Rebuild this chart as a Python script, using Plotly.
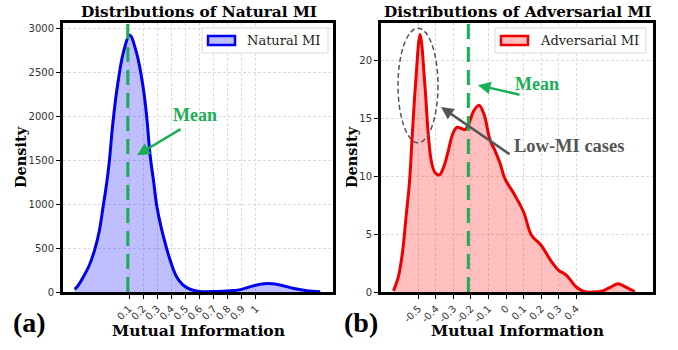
import plotly.graph_objects as go

# ---------------- data ----------------
nat_x = [-0.285, -0.26, -0.224, -0.18, -0.141, -0.11, -0.082, -0.06, -0.04, -0.016,
         0.017, 0.059, 0.105, 0.154, 0.20, 0.225, 0.25, 0.275, 0.296, 0.33, 0.367,
         0.40, 0.438, 0.48, 0.52, 0.56, 0.60, 0.65, 0.70, 0.80, 0.89, 0.98, 1.077,
         1.17, 1.27, 1.36, 1.455]
nat_y = [30, 75, 171, 310, 494, 700, 988, 1220, 1480, 1900,
         2335, 2718, 2920, 2718, 2330, 2000, 1550, 1250, 988, 720, 494,
         320, 171, 85, 42, 18, 7, 4, 6, 12, 27, 70, 96,
         80, 39, 14, 3]

adv_x = [-0.642, -0.614, -0.589, -0.57, -0.551, -0.534, -0.517, -0.49, -0.462, -0.443,
         -0.425, -0.405, -0.38, -0.355, -0.329, -0.305, -0.281, -0.255, -0.234, -0.21,
         -0.185, -0.154, -0.125, -0.091, -0.063, -0.034, -0.007, 0.05, 0.10, 0.145,
         0.20, 0.26, 0.30, 0.345, 0.40, 0.45, 0.50, 0.55, 0.60, 0.638, 0.68, 0.734]
adv_y = [0.1, 1.3, 3.6, 6.5, 9.4, 13.7, 17.7, 22.2, 17.7, 13.5,
         11.2, 10.3, 10.1, 10.8, 12.2, 13.6, 14.2, 14.1, 14.0, 14.6,
         15.6, 16.1, 15.3, 13.1, 12.2, 11.1, 9.8, 8.35, 6.9, 4.9,
         4.03, 2.6, 1.87, 1.44, 0.43, 0.02, 0.0, 0.1, 0.45, 0.72, 0.45, 0.02]

nat_mean = 0.091
adv_mean = -0.215

nat_ticks = [0.1, 0.2, 0.3, 0.4, 0.5, 0.6, 0.7, 0.8, 0.9, 1.0]
nat_ticktext = ["0.1", "0.2", "0.3", "0.4", "0.5", "0.6", "0.7", "0.8", "0.9", "1"]
adv_ticks = [-0.5, -0.4, -0.3, -0.2, -0.1, 0.0, 0.1, 0.2, 0.3, 0.4]
adv_ticktext = ["-0.5", "-0.4", "-0.3", "-0.2", "-0.1", "0", "0.1", "0.2", "0.3", "0.4"]
nat_yticks = [0, 500, 1000, 1500, 2000, 2500, 3000]
adv_yticks = [0, 5, 10, 15, 20]

# ---------------- figure ----------------
W, H = 678, 350
GREEN = "#1aaf54"
GRAY = "#555555"
SERIF_B = "DejaVu Serif"
TIMES = "Liberation Serif"
BLUE = "#0000ee"
RED = "#ee0000"
BLUE_FILL = "rgba(0,0,255,0.25)"
RED_FILL = "rgba(255,0,0,0.25)"

fig = go.Figure()
fig.add_trace(go.Scatter(
    x=nat_x, y=nat_y, mode="lines", line=dict(color=BLUE, width=3, shape="spline", smoothing=1.0),
    fill="tozeroy", fillcolor=BLUE_FILL, name="Natural MI", showlegend=False,
    xaxis="x", yaxis="y"))
fig.add_trace(go.Scatter(
    x=adv_x, y=adv_y, mode="lines", line=dict(color=RED, width=3, shape="spline", smoothing=1.0),
    fill="tozeroy", fillcolor=RED_FILL, name="Adversarial MI", showlegend=False,
    xaxis="x2", yaxis="y2"))

ydom = [1 - 292 / H, 1 - 23 / H]
axis_common = dict(
    showline=True, mirror=True, linecolor="black", linewidth=3,
    showgrid=True, gridcolor="#dcdcdc", griddash="3px,2px", gridwidth=0.8,
    ticks="outside", ticklen=4, tickcolor="black", tickwidth=1,
    tickfont=dict(family="DejaVu Sans", size=10, color="#333333"),
    zeroline=False, automargin=False,
)

fig.update_layout(
    width=W, height=H, margin=dict(l=0, r=0, t=0, b=0, autoexpand=False),
    paper_bgcolor="white", plot_bgcolor="white", showlegend=False,
    xaxis=dict(domain=[63 / W, 333 / W], range=[-0.368, 1.546], anchor="y",
               tickvals=nat_ticks, ticktext=nat_ticktext, tickangle=-45, **axis_common),
    yaxis=dict(domain=ydom, range=[0, 3060], anchor="x", tickvals=nat_yticks, **axis_common),
    xaxis2=dict(domain=[381 / W, 653 / W], range=[-0.713, 0.838], anchor="y2",
                tickvals=adv_ticks, ticktext=adv_ticktext, tickangle=-45, **axis_common),
    yaxis2=dict(domain=ydom, range=[0, 23.2], anchor="x2", tickvals=adv_yticks, **axis_common),
)

def P(px, py):
    return px / W, 1 - py / H

# mean lines
for xa, m in (("x", nat_mean), ("x2", adv_mean)):
    fig.add_shape(type="line", xref=xa, yref="paper", x0=m, x1=m, y0=ydom[0], y1=ydom[1],
                  line=dict(color=GREEN, width=3, dash="15px,8px"))

# dashed ellipse around low-MI peak
fig.add_shape(type="circle", xref="x2", yref="y2", x0=-0.616, x1=-0.388, y0=12.87, y1=22.75,
              line=dict(color=GRAY, width=1.5, dash="5px,3px"))

ann = []

# legends (drawn as box + swatch + text)
for (bx0, bx1, label, lc, fc) in ((202, 328, "Natural MI", BLUE, BLUE_FILL),
                                  (495, 646, "Adversarial MI", RED, RED_FILL)):
    x0, y0 = P(bx0, 28)
    x1, y1 = P(bx1, 53)
    fig.add_shape(type="rect", xref="paper", yref="paper", x0=x0, x1=x1, y0=y1, y1=y0,
                  line=dict(color="#d9d9d9", width=1), fillcolor="rgba(255,255,255,0.85)")
    sx0, sy0 = P(bx0 + 6, 36)
    sx1, sy1 = P(bx0 + 33, 45)
    fig.add_shape(type="rect", xref="paper", yref="paper", x0=sx0, x1=sx1, y0=sy1, y1=sy0,
                  line=dict(color=lc, width=2.5), fillcolor=fc)
    tx, ty = P(bx0 + 43, 40.5)
    ann.append(dict(text=label, x=tx, y=ty, xref="paper", yref="paper", showarrow=False,
                    xanchor="left", yanchor="middle",
                    font=dict(family="DejaVu Serif", size=13, color="#222222")))

# titles
for cx, txt in ((199, "Distributions of Natural MI"), (517, "Distributions of Adversarial MI")):
    x, y = P(cx, 12)
    ann.append(dict(text="<b>%s</b>" % txt, x=x, y=y, xref="paper", yref="paper", showarrow=False,
                    xanchor="center", yanchor="middle",
                    font=dict(family=SERIF_B, size=15.3, color="black")))
    x, y = P(cx, 330)
    ann.append(dict(text="<b>Mutual Information</b>", x=x, y=y, xref="paper", yref="paper",
                    showarrow=False, xanchor="center", yanchor="middle",
                    font=dict(family=SERIF_B, size=15.5, color="black")))
for cx in (20, 351):
    x, y = P(cx, 157)
    ann.append(dict(text="<b>Density</b>", x=x, y=y, xref="paper", yref="paper", showarrow=False,
                    xanchor="center", yanchor="middle", textangle=-90,
                    font=dict(family=SERIF_B, size=14.5, color="black")))
for cx, t in ((29, "(a)"), (361, "(b)")):
    x, y = P(cx, 322)
    ann.append(dict(text="<b>%s</b>" % t, x=x, y=y, xref="paper", yref="paper", showarrow=False,
                    xanchor="center", yanchor="middle",
                    font=dict(family=TIMES, size=28, color="black")))

# Mean labels + arrows
ann.append(dict(text="<b>Mean</b>", x=0.568, y=2012, xref="x", yref="y", showarrow=False,
                xanchor="center", yanchor="middle",
                font=dict(family=TIMES, size=18, color=GREEN)))
ann.append(dict(text="", x=0.157, y=1557, ax=0.476, ay=1863, xref="x", yref="y", axref="x", ayref="y",
                showarrow=True, arrowhead=2, arrowsize=1, arrowwidth=2.5, arrowcolor=GREEN))
ann.append(dict(text="<b>Mean</b>", x=0.177, y=17.94, xref="x2", yref="y2", showarrow=False,
                xanchor="center", yanchor="middle",
                font=dict(family=TIMES, size=18, color=GREEN)))
ann.append(dict(text="", x=-0.16, y=17.84, ax=0.0855, ay=16.99, xref="x2", yref="y2", axref="x2", ayref="y2",
                showarrow=True, arrowhead=2, arrowsize=1, arrowwidth=2.5, arrowcolor=GREEN))
ann.append(dict(text="<b>Low-MI cases</b>", x=0.359, y=12.58, xref="x2", yref="y2", showarrow=False,
                xanchor="center", yanchor="middle",
                font=dict(family=TIMES, size=18.5, color=GRAY)))
ann.append(dict(text="", x=-0.371, y=15.95, ax=0.0285, ay=11.8, xref="x2", yref="y2", axref="x2", ayref="y2",
                showarrow=True, arrowhead=2, arrowsize=1, arrowwidth=2.5, arrowcolor=GRAY))

fig.update_layout(annotations=ann)
fig.write_html("out.html", config={"displayModeBar": False},
               post_script="document.body.style.margin='0px';")
